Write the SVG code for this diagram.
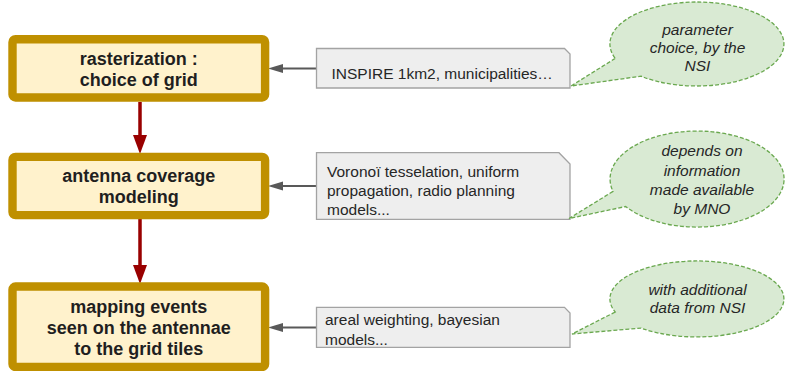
<svg xmlns="http://www.w3.org/2000/svg" width="785" height="371" viewBox="0 0 785 371">
<defs>
<style>
.main rect{fill:#FFF2CC;stroke:#BF9000;stroke-width:8.4}
.main text{font-family:"Liberation Sans",Arial,sans-serif;font-weight:bold;font-size:18px;fill:#1f1f1f;text-anchor:middle}
.note path{fill:#EEEEEE;stroke:#A3A3A3;stroke-width:1.3}
.note text{font-family:"Liberation Sans",Arial,sans-serif;font-size:15.5px;fill:#262626}
.bub path{fill:#D9EAD3;stroke:#6AA84F;stroke-width:1.3;stroke-dasharray:4 2}
.bub text{font-family:"Liberation Sans",Arial,sans-serif;font-size:15.5px;font-style:italic;fill:#262626;text-anchor:middle}
.red{stroke:#990000;stroke-width:3.5;fill:none}
.gray{stroke:#595959;stroke-width:2;fill:none}
</style>
<marker id="ar" markerWidth="14" markerHeight="19" refX="7" refY="19" orient="auto-start-reverse" markerUnits="userSpaceOnUse" viewBox="0 0 14 19">
<path d="M0,0 L14,0 L7,19 Z" fill="#990000"/>
</marker>
<marker id="ag" markerWidth="15" markerHeight="9" refX="0" refY="4.5" markerUnits="userSpaceOnUse" viewBox="0 0 15 9" orient="0">
<path d="M0,4.5 L15,0 L15,9 Z" fill="#595959"/>
</marker>
</defs>

<g id="connectors">
<path class="red" d="M140,102 V136"/>
<path d="M133,135 L147,135 L140,154 Z" fill="#990000"/>
<path class="red" d="M140,219 V266"/>
<path d="M133,265 L147,265 L140,284 Z" fill="#990000"/>
<path class="gray" d="M316,68.5 H282"/>
<path d="M268,68.5 L283,64 L283,73 Z" fill="#595959"/>
<path class="gray" d="M316,186 H282"/>
<path d="M268,186 L283,181.5 L283,190.5 Z" fill="#595959"/>
<path class="gray" d="M316,327.5 H282"/>
<path d="M268,327.5 L283,323 L283,332 Z" fill="#595959"/>
</g>

<g id="box1" class="main">
<rect x="12.5" y="39.2" width="252.6" height="58.3" rx="3"/>
<text x="138.8" y="64.5">rasterization :</text>
<text x="138.8" y="85.5">choice of grid</text>
</g>
<g id="box2" class="main">
<rect x="12.5" y="156.9" width="252.6" height="58.2" rx="3"/>
<text x="138.8" y="181.8">antenna coverage</text>
<text x="138.8" y="202.8">modeling</text>
</g>
<g id="box3" class="main">
<rect x="12.5" y="286.5" width="252.6" height="80.5" rx="3"/>
<text x="138.8" y="313">mapping events</text>
<text x="138.8" y="334">seen on the antennae</text>
<text x="138.8" y="355">to the grid tiles</text>
</g>

<g id="noteA" class="note">
<path d="M316.5,48.5 H564.5 L570,54 V88 H316.5 Z"/>
<text x="331.5" y="79">INSPIRE 1km2, municipalities…</text>
</g>
<g id="noteB" class="note">
<path d="M316.5,152.7 H559 L570,164 V219.3 H316.5 Z"/>
<text x="327" y="177">Voronoï tesselation, uniform</text>
<text x="327" y="196">propagation, radio planning</text>
<text x="327" y="215">models...</text>
</g>
<g id="noteC" class="note">
<path d="M316.5,307.3 H564.5 L570,313 V347.3 H316.5 Z"/>
<text x="325" y="325">areal weighting, bayesian</text>
<text x="325" y="345">models...</text>
</g>

<g id="bubble1" class="bub">
<path d="M615.2,58.4 L571,86 L641.1,76.2 A87,42 0 1 0 615.2,58.4 Z"/>
<text x="697.5" y="35">parameter</text>
<text x="697.5" y="53.3">choice, by the</text>
<text x="697.5" y="71">NSI</text>
</g>
<g id="bubble2" class="bub">
<path d="M613,191.4 L569,218.5 L625.7,206.5 A87,48 0 1 0 613,191.4 Z"/>
<text x="702" y="156">depends on</text>
<text x="702" y="175.5">information</text>
<text x="702" y="195">made available</text>
<text x="702" y="213.5">by MNO</text>
</g>
<g id="bubble3" class="bub">
<path d="M615.2,312 L572,334 L641.1,328.1 A87,38 0 1 0 615.2,312 Z"/>
<text x="697.5" y="295">with additional</text>
<text x="697.5" y="312.7">data from NSI</text>
</g>
</svg>
